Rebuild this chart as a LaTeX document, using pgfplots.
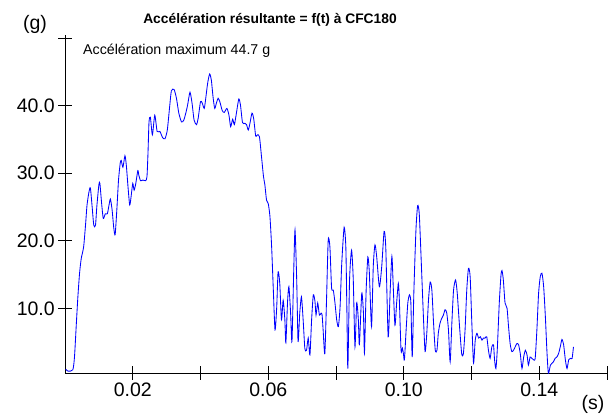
\documentclass[border=0pt]{standalone}
\usepackage{fontspec}
\setmainfont{Liberation Sans}
\usepackage{pgfplots}
\pgfplotsset{compat=1.18}
\usepackage{pgfplotstable}

% resultant acceleration (g) against time (s)
\pgfplotstableread{
t g
0.0002 1.0
0.0009 0.7
0.0023 0.9
0.0028 2.8
0.0033 7.3
0.0038 11.7
0.0043 15.2
0.0048 17.4
0.0055 19.1
0.0061 22.6
0.0065 25.3
0.0071 27.3
0.0075 27.8
0.0080 25.1
0.0085 22.3
0.0090 22.3
0.0094 25.1
0.0100 28.3
0.0103 28.5
0.0108 25.6
0.0113 23.3
0.0119 24.0
0.0125 24.0
0.0130 25.3
0.0134 26.2
0.0139 24.6
0.0144 21.9
0.0148 20.9
0.0153 24.6
0.0158 29.0
0.0163 31.5
0.0166 31.9
0.0171 30.9
0.0177 32.6
0.0181 31.2
0.0186 28.0
0.0191 25.3
0.0195 26.5
0.0200 28.5
0.0204 27.5
0.0209 28.5
0.0215 30.4
0.0218 29.7
0.0223 28.9
0.0230 29.0
0.0238 28.9
0.0242 29.5
0.0245 33.0
0.0248 37.6
0.0252 38.3
0.0258 35.7
0.0265 38.6
0.0272 36.2
0.0280 36.2
0.0288 35.3
0.0295 35.1
0.0302 36.4
0.0309 39.9
0.0314 42.2
0.0322 42.4
0.0329 41.1
0.0336 38.9
0.0344 37.6
0.0351 37.9
0.0359 39.4
0.0363 40.4
0.0369 42.0
0.0375 40.4
0.0381 37.9
0.0388 37.2
0.0393 38.1
0.0400 40.6
0.0405 40.4
0.0411 39.6
0.0415 40.9
0.0421 43.3
0.0427 44.7
0.0432 43.8
0.0437 41.3
0.0442 39.6
0.0447 40.4
0.0452 41.1
0.0457 40.6
0.0464 39.3
0.0470 39.0
0.0478 39.6
0.0484 38.6
0.0489 36.9
0.0495 38.0
0.0500 37.2
0.0506 38.9
0.0513 41.0
0.0518 40.1
0.0524 37.5
0.0531 37.4
0.0536 37.2
0.0541 36.4
0.0546 37.4
0.0552 38.9
0.0557 38.1
0.0563 35.5
0.0568 35.7
0.0574 35.4
0.0580 32.5
0.0586 29.5
0.0590 28.3
0.0595 26.0
0.0600 25.5
0.0605 23.6
0.0610 19.1
0.0615 12.7
0.0620 6.8
0.0625 10.2
0.0629 15.4
0.0634 13.7
0.0639 8.3
0.0644 11.2
0.0649 8.3
0.0652 4.9
0.0657 11.0
0.0661 13.2
0.0666 9.3
0.0670 5.1
0.0675 15.2
0.0679 21.6
0.0684 14.2
0.0688 5.1
0.0693 9.3
0.0698 11.7
0.0703 8.3
0.0708 4.1
0.0713 3.8
0.0718 5.6
0.0723 3.1
0.0728 8.3
0.0733 12.0
0.0738 11.0
0.0741 9.0
0.0746 10.8
0.0751 9.0
0.0756 9.3
0.0759 9.0
0.0762 6.8
0.0767 3.3
0.0772 11.2
0.0777 20.1
0.0782 19.1
0.0787 13.0
0.0792 12.7
0.0797 10.8
0.0802 8.3
0.0807 7.3
0.0812 10.2
0.0817 16.7
0.0824 22.0
0.0829 19.1
0.0832 10.2
0.0835 1.1
0.0840 14.2
0.0846 18.6
0.0851 14.2
0.0856 4.3
0.0861 10.8
0.0866 8.3
0.0869 4.6
0.0876 12.2
0.0881 9.3
0.0884 3.4
0.0889 12.7
0.0894 17.6
0.0898 15.7
0.0900 13.2
0.0905 7.3
0.0910 16.2
0.0915 19.4
0.0920 17.7
0.0928 13.2
0.0935 16.2
0.0942 21.4
0.0947 18.9
0.0954 5.8
0.0960 12.7
0.0965 17.7
0.0969 13.2
0.0974 7.5
0.0979 10.8
0.0984 13.7
0.0987 11.2
0.0992 3.8
0.0996 4.1
0.0999 3.3
0.1002 2.4
0.1007 6.8
0.1012 10.8
0.1017 12.0
0.1021 10.8
0.1025 2.8
0.1030 12.7
0.1036 21.6
0.1041 25.2
0.1046 23.8
0.1053 15.2
0.1058 8.8
0.1063 3.6
0.1068 6.3
0.1073 11.2
0.1078 13.9
0.1083 12.7
0.1088 7.8
0.1093 3.8
0.1098 3.8
0.1102 6.3
0.1107 7.8
0.1112 8.5
0.1117 9.0
0.1122 9.8
0.1127 9.3
0.1132 6.8
0.1137 2.1
0.1142 7.8
0.1147 12.7
0.1153 14.2
0.1158 12.2
0.1164 7.8
0.1171 3.3
0.1176 3.3
0.1181 6.8
0.1186 12.7
0.1191 15.9
0.1196 14.7
0.1201 7.8
0.1206 1.9
0.1211 5.3
0.1216 6.3
0.1221 5.6
0.1226 5.8
0.1231 5.3
0.1235 5.6
0.1240 5.6
0.1245 5.8
0.1250 3.8
0.1255 2.6
0.1260 4.3
0.1265 4.6
0.1268 2.4
0.1272 1.1
0.1276 3.8
0.1282 10.8
0.1287 14.9
0.1290 15.6
0.1294 14.2
0.1299 10.8
0.1305 10.0
0.1309 7.5
0.1314 4.8
0.1319 3.6
0.1324 3.8
0.1329 4.3
0.1334 4.8
0.1339 4.6
0.1344 3.3
0.1349 1.1
0.1354 2.8
0.1359 3.8
0.1364 3.1
0.1368 1.6
0.1373 2.8
0.1378 2.6
0.1383 2.4
0.1388 2.6
0.1393 6.8
0.1398 12.2
0.1403 14.7
0.1408 15.2
0.1413 13.2
0.1418 8.8
0.1423 3.3
0.1427 0.4
0.1433 1.6
0.1438 1.9
0.1442 2.1
0.1447 2.6
0.1452 2.8
0.1457 3.3
0.1462 4.3
0.1467 5.4
0.1472 4.6
0.1477 2.4
0.1482 1.1
0.1487 2.4
0.1492 2.6
0.1497 2.6
0.1501 4.3
}\acc

\begin{document}
\begin{tikzpicture}
\useasboundingbox (0,0) rectangle (616bp,416bp);
\begin{axis}[
  at={(65bp,43bp)}, anchor=south west,
  scale only axis, width=542bp, height=338bp,
  xmin=0, xmax=0.16, ymin=0.43, ymax=50.47,
  axis lines*=left,
  axis line style={line width=0.9bp},
  tick style={black, line width=0.9bp},
  tick align=center, major tick length=13.5bp,
  xtick={0.02,0.04,0.06,0.08,0.10,0.12,0.14,0.16},
  xticklabels={0.02,,0.06,,0.10,,0.14,},
  ytick={10,20,30,40,50},
  yticklabels={10.0,20.0,30.0,40.0,},
  ticklabel style={font=\fontsize{19.5bp}{20bp}\selectfont},
]
\addplot[blue, line width=0.85bp, smooth, tension=0.4] table {\acc};
\end{axis}
\node[font=\fontsize{19.5bp}{20bp}\selectfont, anchor=base] at (35bp,386bp) {(g)};
\node[font=\fontsize{19.5bp}{20bp}\selectfont, anchor=base] at (593bp,7bp) {(s)};
\node[font=\bfseries\fontsize{13.8bp}{16bp}\selectfont, anchor=base] at (270bp,392bp) {Accélération résultante = f(t) à CFC180};
\node[font=\fontsize{14.2bp}{16bp}\selectfont, anchor=base west, inner sep=0pt] at (83bp,361.7bp) {Accélération maximum 44.7 g};
\end{tikzpicture}
\end{document}
